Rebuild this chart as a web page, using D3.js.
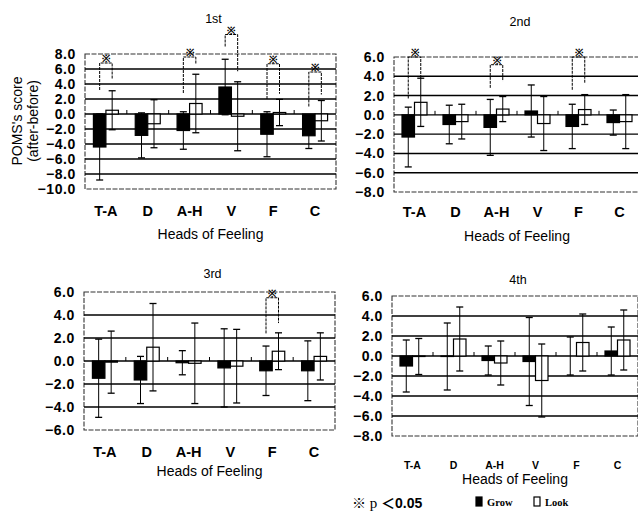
<!DOCTYPE html>
<html>
<head>
<meta charset="utf-8">
<script src="https://d3js.org/d3.v7.min.js"></script>
<style>
body { margin: 0; background: #fff; }
text { font-family: "Liberation Sans", Arial, sans-serif; fill: #000; }
</style>
</head>
<body>
<svg width="638" height="515"></svg>
<script>
// categories and sessions
var categories = ["T-A", "D", "A-H", "V", "F", "C"];
var sessions = ["1st", "2nd", "3rd", "4th"];

// y ranges of each panel
var domain1 = [-10, 8], domain2 = [-8, 6], domain3 = [-6, 6], domain4 = [-8, 6];

// mean (after-before) and SD, Grow / Look
var grow1 = [-4.4, -2.85, -2.2, 3.6, -2.7, -2.9];
var growSd1 = [4.4, 3.0, 2.5, 3.7, 3.0, 1.7];
var look1 = [0.5, -1.3, 1.4, -0.3, 0.2, -0.9];
var lookSd1 = [2.6, 3.2, 3.9, 4.6, 1.75, 2.7];

var grow2 = [-2.3, -1.0, -1.3, 0.4, -1.2, -0.8];
var growSd2 = [3.1, 2.0, 2.9, 2.7, 2.3, 1.3];
var look2 = [1.3, -0.7, 0.6, -0.9, 0.55, -0.7];
var lookSd2 = [2.5, 1.8, 1.3, 2.8, 1.55, 2.8];

var grow3 = [-1.5, -1.65, -0.15, -0.6, -0.85, -0.85];
var growSd3 = [3.4, 2.05, 1.05, 3.4, 2.15, 2.6];
var look3 = [-0.1, 1.2, -0.2, -0.45, 0.85, 0.4];
var lookSd3 = [2.7, 3.8, 3.5, 3.2, 1.6, 2.05];

var grow4 = [-1.0, -0.05, -0.45, -0.55, 0.0, 0.5];
var growSd4 = [2.6, 3.35, 1.45, 4.4, 1.9, 2.4];
var look4 = [-0.05, 1.7, -0.7, -2.45, 1.35, 1.6];
var lookSd4 = [1.8, 3.2, 2.2, 3.65, 2.85, 3.0];

// significance brackets: [category, grow leg end, look leg end, bracket top]
var sig1 = [["T-A", 3.2, 4.6, 6.8], ["A-H", 2.8, 6.7, 7.6], ["V", 9.0, 5.7, 10.6], ["F", 2.0, 2.7, 6.7], ["C", 1.0, 2.6, 5.6]];
var sig2 = [["T-A", 1.7, 3.8, 6.0], ["A-H", 2.8, 3.5, 5.2], ["F", 2.6, 3.3, 6.0]];
var sig3 = [["F", 2.4, 3.3, 5.5]];
var sig4 = [];

var svg = d3.select("svg");

// layout of the four panels
var panels = [
  {title: sessions[0], grow: grow1, growSd: growSd1, look: look1, lookSd: lookSd1, sig: sig1, domain: domain1,
   x0: 85, x1: 336, y0: 54, y1: 189, titleY: 20, catY: 212, headY: 235, catSize: 14.5},
  {title: sessions[1], grow: grow2, growSd: growSd2, look: look2, lookSd: lookSd2, sig: sig2, domain: domain2,
   x0: 394, x1: 640, y0: 57, y1: 192, titleY: 23, catY: 213, headY: 237, catSize: 14.5},
  {title: sessions[2], grow: grow3, growSd: growSd3, look: look3, lookSd: lookSd3, sig: sig3, domain: domain3,
   x0: 84, x1: 335, y0: 292, y1: 430, titleY: 275, catY: 453, headY: 472, catSize: 14.5},
  {title: sessions[3], grow: grow4, growSd: growSd4, look: look4, lookSd: lookSd4, sig: sig4, domain: domain4,
   x0: 392, x1: 638, y0: 296, y1: 436, titleY: 281, catY: 466, headY: 480, catSize: 10.5}
];

var barW = 12.5, capW = 7;

panels.forEach(function(p) {
  var g = svg.append("g");
  var x = d3.scaleBand().domain(categories).range([p.x0, p.x1]);
  var y = d3.scaleLinear().domain(p.domain).range([p.y1, p.y0]);
  var cx = function(c) { return x(c) + x.bandwidth() / 2; };
  var ticks = d3.range(p.domain[0], p.domain[1] + 0.001, 2);

  // plot frame (dashed)
  g.append("rect")
    .attr("x", p.x0).attr("y", p.y0)
    .attr("width", p.x1 - p.x0).attr("height", p.y1 - p.y0)
    .attr("fill", "none").attr("stroke", "#333")
    .attr("stroke-width", 1.1).attr("stroke-dasharray", "5,1.5");

  // gridlines
  g.selectAll(".grid")
    .data(ticks.slice(1, -1))
    .enter().append("line")
    .attr("x1", p.x0).attr("x2", p.x1)
    .attr("y1", function(d) { return y(d); })
    .attr("y2", function(d) { return y(d); })
    .attr("stroke", "#000").attr("stroke-width", 1.4);

  // small ticks on zero line at band edges
  g.selectAll(".ztick")
    .data(categories.slice(1))
    .enter().append("line")
    .attr("x1", function(c) { return x(c); })
    .attr("x2", function(c) { return x(c); })
    .attr("y1", y(0)).attr("y2", y(0) - 4)
    .attr("stroke", "#000").attr("stroke-width", 1);

  // y axis labels
  var yAxis = d3.axisLeft(y).tickValues(ticks).tickSize(0).tickPadding(9).tickFormat(d3.format(".1f"));
  var ya = g.append("g").attr("transform", "translate(" + p.x0 + ",0)").call(yAxis);
  ya.select(".domain").remove();
  ya.selectAll("text").style("font-size", "14px").style("font-weight", "bold")
    .style("letter-spacing", "0.6px")
    .style("font-family", "'Liberation Sans', Arial, sans-serif");

  // category labels
  g.selectAll(".cat")
    .data(categories)
    .enter().append("text")
    .attr("x", cx).attr("y", p.catY)
    .attr("text-anchor", "middle").attr("dominant-baseline", "middle")
    .style("font-size", p.catSize + "px").style("font-weight", "bold")
    .text(function(c) { return c; });

  g.append("text")
    .attr("x", (p.x0 + p.x1) / 2).attr("y", p.headY)
    .attr("text-anchor", "middle").attr("dominant-baseline", "middle")
    .style("font-size", "14px")
    .text("Heads of Feeling");

  g.append("text")
    .attr("x", (p.x0 + p.x1) / 2 + 3).attr("y", p.titleY)
    .attr("text-anchor", "middle").attr("dominant-baseline", "middle")
    .style("font-size", "12.5px")
    .text(p.title);

  // bars
  var series = [
    {vals: p.grow, sd: p.growSd, off: -barW, fill: "#000"},
    {vals: p.look, sd: p.lookSd, off: 0, fill: "#fff"}
  ];
  series.forEach(function(s) {
    g.selectAll(null)
      .data(categories)
      .enter().append("rect")
      .attr("x", function(c) { return cx(c) + s.off; })
      .attr("width", barW)
      .attr("y", function(c, i) { return y(Math.max(0, s.vals[i])); })
      .attr("height", function(c, i) { return Math.abs(y(s.vals[i]) - y(0)); })
      .attr("fill", s.fill).attr("stroke", "#000").attr("stroke-width", 1.2);

    categories.forEach(function(c, i) {
      var ex = cx(c) + s.off + barW / 2;
      var hi = y(s.vals[i] + s.sd[i]), lo = y(s.vals[i] - s.sd[i]);
      g.append("line").attr("x1", ex).attr("x2", ex).attr("y1", hi).attr("y2", lo)
        .attr("stroke", "#000").attr("stroke-width", 1);
      [hi, lo].forEach(function(yy) {
        g.append("line").attr("x1", ex - capW / 2).attr("x2", ex + capW / 2)
          .attr("y1", yy).attr("y2", yy)
          .attr("stroke", "#000").attr("stroke-width", 1.3);
      });
    });
  });

  // significance brackets
  p.sig.forEach(function(s) {
    var xl = cx(s[0]) - barW / 2, xr = cx(s[0]) + barW / 2;
    g.append("path")
      .attr("d", "M" + xl + "," + y(s[1]) + "V" + y(s[3]) + "H" + xr + "V" + y(s[2]))
      .attr("fill", "none").attr("stroke", "#000").attr("stroke-width", 1)
      .attr("stroke-dasharray", "3,1");
    g.append("text")
      .attr("x", (xl + xr) / 2).attr("y", y(s[3]) - 3.5)
      .attr("text-anchor", "middle").attr("dominant-baseline", "middle")
      .style("font-size", "10px").style("font-weight", "bold")
      .text("\u203B");
  });
});

// y axis title
var yt = svg.append("text")
  .attr("transform", "translate(22,121) rotate(-90)")
  .attr("text-anchor", "middle")
  .style("font-size", "14px");
yt.append("tspan").attr("x", 0).attr("dy", 0).text("POMS's score");
yt.append("tspan").attr("x", 0).attr("dy", 16).text("(after-before)");

// legend
var lg = svg.append("g");
var pt = lg.append("text").attr("x", 352).attr("y", 508).style("font-size", "14px");
pt.append("tspan").style("font-family", "'Noto Sans CJK JP', sans-serif").style("font-size", "14px").text("\u203B");
pt.append("tspan").style("font-family", "'Liberation Serif', serif").style("font-size", "15px").text(" p ");
pt.append("tspan").style("font-weight", "bold").style("font-family", "'Noto Sans CJK JP', sans-serif").text("\uFF1C");
pt.append("tspan").style("font-weight", "bold").text("0.05");

var legendKeys = ["Grow", "Look"];
var legendFill = ["#000", "#fff"];
var lx = [476, 534];
legendKeys.forEach(function(k, i) {
  lg.append("rect").attr("x", lx[i]).attr("y", 497).attr("width", 6).attr("height", 9)
    .attr("fill", legendFill[i]).attr("stroke", "#000").attr("stroke-width", 1.2);
  lg.append("text").attr("x", lx[i] + 11).attr("y", 506)
    .style("font-family", "'Liberation Serif', serif").style("font-weight", "bold")
    .style("font-size", "10.5px").text(k);
});
</script>
</body>
</html>
